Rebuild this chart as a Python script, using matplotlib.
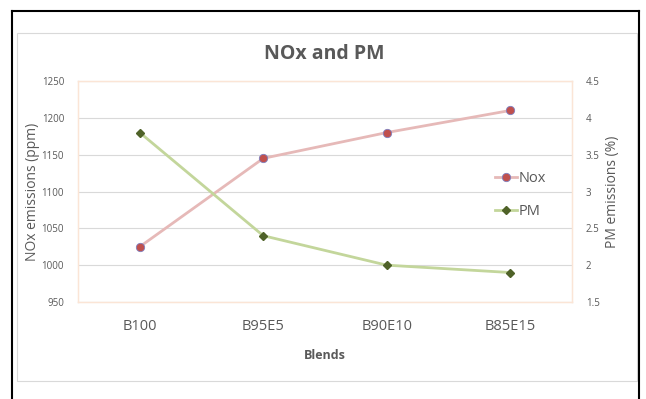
import matplotlib
matplotlib.use("Agg")
import matplotlib.pyplot as plt
from matplotlib.patches import Rectangle
from matplotlib.lines import Line2D

categories = ["B100", "B95E5", "B90E10", "B85E15"]
nox_values = [1025, 1145, 1180, 1210]
pm_values = [3.8, 2.4, 2.0, 1.9]
left_ticks = [950, 1000, 1050, 1100, 1150, 1200, 1250]
right_ticks = [1.5, 2, 2.5, 3, 3.5, 4, 4.5]
right_tick_labels = ["1.5", "2", "2.5", "3", "3.5", "4", "4.5"]

plt.rcParams['font.family'] = ['Open Sans', 'DejaVu Sans']
W, H = 646, 399
fig = plt.figure(figsize=(W/100, H/100), dpi=100)
fig.patch.set_facecolor("white")

def fx(x): return x / W
def fy(y): return 1 - y / H

# outer black frame (left, top, right)
fig.add_artist(Line2D([fx(12), fx(12)], [fy(11), 0], color="black", lw=1.5))
fig.add_artist(Line2D([fx(12), fx(639)], [fy(11), fy(11)], color="black", lw=1.5))
fig.add_artist(Line2D([fx(639), fx(639)], [fy(11), 0], color="black", lw=1.5))
# inner light gray chart border
fig.add_artist(Rectangle((fx(17), fy(381)), fx(637-17), (381-33)/H, fill=False,
                         edgecolor="#D9D9D9", lw=0.8))

ax = fig.add_axes([fx(78), fy(302), fx(572-78), (302-81)/H])
ax2 = ax.twinx()

x = list(range(len(categories)))
gray = "#595959"

ax.plot(x, nox_values, color="#E6B9B8", lw=2.0, marker="o", markersize=6,
        markerfacecolor="#C0504D", markeredgecolor="#7F7FBF", markeredgewidth=0.6,
        zorder=3)
ax2.plot(x, pm_values, color="#C3D69B", lw=2.0, marker="D", markersize=4.5,
         markerfacecolor="#4F6228", markeredgecolor="#4F6228", zorder=3)

ax.set_xlim(-0.5, 3.5)
ax.set_ylim(950, 1250)
ax.set_yticks(left_ticks)
ax.set_yticklabels([str(v) for v in left_ticks])
ax2.set_ylim(1.5, 4.5)
ax2.set_yticks(right_ticks)
ax2.set_yticklabels(right_tick_labels)
ax.set_xticks(x)
ax.set_xticklabels(categories)

ax.grid(axis="y", color="#D9D9D9", lw=0.8)
ax.set_axisbelow(True)
for a in (ax, ax2):
    for s in a.spines.values():
        s.set_color("#FBE5D6")
        s.set_linewidth(0.9)
    a.tick_params(length=0, colors=gray)

ax.tick_params(axis="y", labelsize=7, pad=10)
ax2.tick_params(axis="y", labelsize=7, pad=10)
ax.tick_params(axis="x", labelsize=10.5, pad=12)

ax.set_ylabel("NOx emissions (ppm)", color=gray, fontsize=10, labelpad=1)
ax2.set_ylabel("PM emissions (%)", color=gray, fontsize=10, labelpad=4)
ax.set_xlabel("Blends", color=gray, fontsize=9, fontweight="bold", labelpad=11)

fig.text(fx(324), fy(54), "NOx and PM", ha="center", va="center",
         fontsize=14, fontweight="bold", color=gray)

# legend
h1 = Line2D([], [], color="#E6B9B8", lw=2.0, marker="o", markersize=6,
            markerfacecolor="#C0504D", markeredgecolor="#7F7FBF", markeredgewidth=0.6)
h2 = Line2D([], [], color="#C3D69B", lw=2.0, marker="D", markersize=4.5,
            markerfacecolor="#4F6228", markeredgecolor="#4F6228")
leg = fig.legend([h1, h2], ["Nox", "PM"], loc="center left",
                 bbox_to_anchor=(fx(482), fy(195)), frameon=False, fontsize=10.5,
                 handlelength=1.5, handletextpad=0.1, labelspacing=1.2,
                 labelcolor=gray)

fig.savefig("out.png", dpi=100, facecolor="white")
